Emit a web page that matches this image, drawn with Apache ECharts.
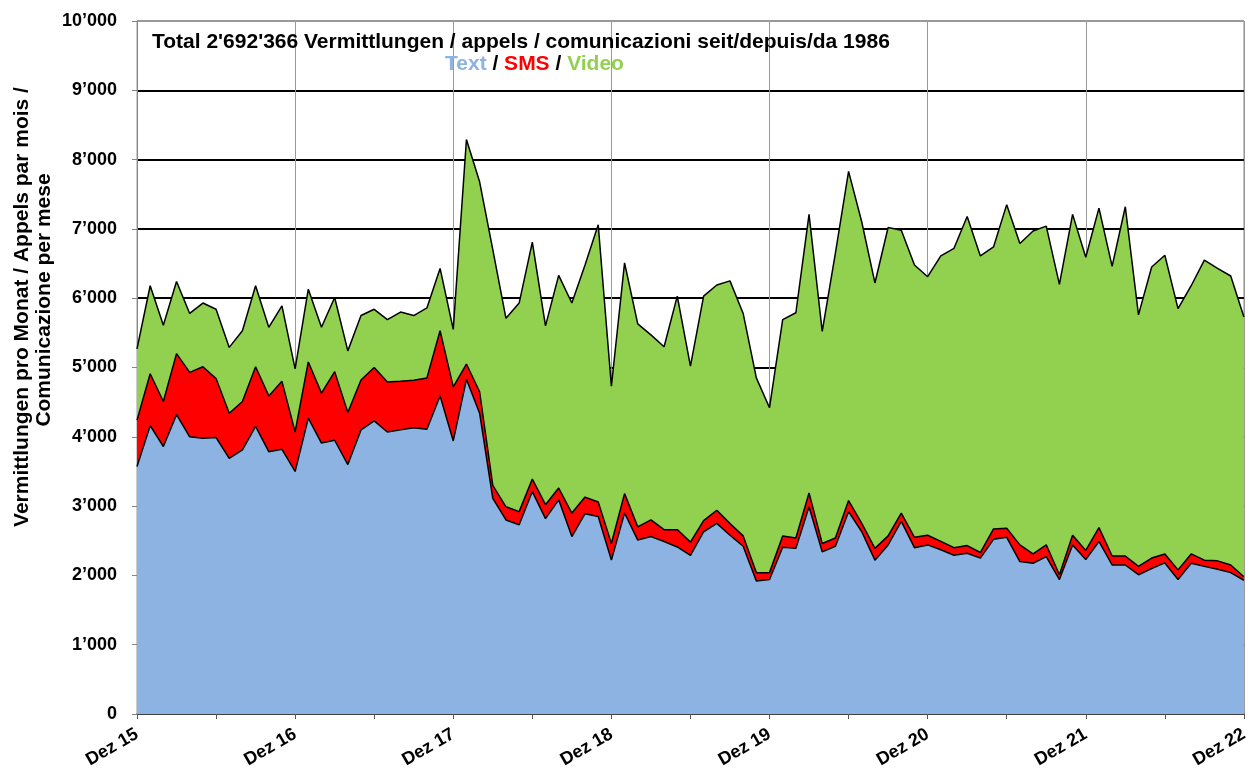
<!DOCTYPE html>
<html>
<head>
<meta charset="utf-8">
<script src="https://cdn.jsdelivr.net/npm/echarts@6/dist/echarts.min.js"></script>
<style>
  html, body { margin: 0; padding: 0; background: #fff; }
  #chart { width: 1251px; height: 778px; }
</style>
</head>
<body>
<div id="chart"></div>
<script>
// monthly values, Dez 15 .. Dez 22
const monthNames = ['Dez', 'Jan', 'Feb', 'Mär', 'Apr', 'Mai', 'Jun', 'Jul', 'Aug', 'Sep', 'Okt', 'Nov']
const months = []
for (let i = 0; i <= 84; i++) {
  const yr = 15 + Math.ceil(i / 12)
  months.push(monthNames[i % 12] + ' ' + yr)
}

const textData = [
  3570, 4160, 3860, 4320, 4000, 3980, 3990, 3690, 3810, 4150, 3785, 3820,
  3500, 4270, 3910, 3950, 3600, 4100, 4230, 4070, 4100, 4130, 4110, 4590,
  3940, 4830, 4340, 3110, 2800, 2730, 3210, 2820, 3090, 2560, 2890, 2850,
  2220, 2900, 2510, 2560, 2490, 2410, 2290, 2630, 2750, 2580, 2420, 1920,
  1940, 2405, 2390, 2990, 2340, 2420, 2920, 2630, 2220, 2440, 2780, 2400,
  2440, 2370, 2290, 2320, 2250, 2520, 2550, 2200, 2175, 2270, 1940, 2440,
  2230, 2490, 2150, 2150, 2010, 2100, 2180, 1940, 2175, 2130, 2090, 2040,
  1930
]
const smsData = [
  670, 750, 650, 880, 930, 1030, 850, 650, 700, 860, 805, 980,
  570, 810, 720, 990, 750, 720, 770, 720, 700, 685, 740, 940,
  780, 220, 310, 190, 190, 190, 180, 200, 170, 340, 240, 210,
  240, 280, 190, 240, 170, 250, 190, 160, 190, 170, 150, 120,
  100, 165, 150, 200, 120, 120, 160, 120, 170, 130, 120, 150,
  140, 120, 110, 110, 80, 150, 130, 240, 135, 170, 70, 140,
  130, 200, 130, 130, 120, 150, 130, 140, 135, 90, 120, 110,
  50
]
const videoData = [
  1030, 1270, 1100, 1040, 850, 920, 1000, 950, 1020, 1170, 990, 1090,
  910, 1050, 950, 1070, 890, 930, 840, 900, 1000, 935, 1010, 900,
  830, 3240, 3030, 3400, 2720, 3010, 3420, 2580, 3070, 3030, 3350, 4000,
  2270, 3330, 2930, 2670, 2640, 3370, 2540, 3240, 3250, 3500, 3210, 2810,
  2380, 3120, 3250, 4020, 3060, 4110, 4750, 4350, 3830, 4450, 4080, 3930,
  3730, 4120, 4320, 4750, 4280, 4070, 4670, 4350, 4660, 4600, 4190, 4630,
  4230, 4610, 4180, 5040, 3630, 4200, 4310, 3770, 3870, 4330, 4220, 4170,
  3750
]

const FONT = 'Liberation Sans, Arial, sans-serif'
const fmt = v => v >= 1000 ? Math.floor(v / 1000) + '\u2019' + String(v % 1000).padStart(3, '0') : String(v)

const areaSeries = (name, data, color) => ({
  name: name,
  type: 'line',
  stack: 'total',
  data: data,
  symbol: 'none',
  lineStyle: { color: '#000', width: 1.5 },
  areaStyle: { color: color, opacity: 1 },
  itemStyle: { color: color }
})

const Chart = echarts.init(document.getElementById('chart'))
const option = {
  animation: false,
  title: [
    {
      text: "Total 2'692'366 Vermittlungen / appels / comunicazioni seit/depuis/da 1986",
      left: 147,
      top: 27,
      textStyle: { fontFamily: FONT, fontSize: 21, fontWeight: 'bold', color: '#000' }
    },
    {
      text: '{a|Text} {b|/} {c|SMS} {b|/} {d|Video}',
      left: 440,
      top: 49,
      textStyle: {
        fontFamily: FONT, fontSize: 21, fontWeight: 'bold',
        rich: {
          a: { color: '#8DB3E2', fontFamily: FONT, fontSize: 21, fontWeight: 'bold' },
          b: { color: '#000', fontFamily: FONT, fontSize: 21, fontWeight: 'bold' },
          c: { color: '#FF0000', fontFamily: FONT, fontSize: 21, fontWeight: 'bold' },
          d: { color: '#92D050', fontFamily: FONT, fontSize: 21, fontWeight: 'bold' }
        }
      }
    }
  ],
  grid: {
    left: 137,
    right: 5,
    top: 21,
    bottom: 64,
    show: true,
    borderColor: '#999',
    borderWidth: 1,
    containLabel: false
  },
  xAxis: {
    type: 'category',
    boundaryGap: false,
    data: months,
    axisLine: { lineStyle: { color: '#555', width: 1.5 } },
    axisTick: { interval: 5, length: 5, lineStyle: { color: '#555' } },
    axisLabel: {
      interval: 11,
      rotate: 30,
      margin: 19,
      fontFamily: FONT,
      fontSize: 18,
      fontWeight: 'bold',
      color: '#000'
    },
    splitLine: { show: true, interval: 11, lineStyle: { color: '#999', width: 1 } }
  },
  yAxis: {
    type: 'value',
    min: 0,
    max: 10000,
    interval: 1000,
    axisLine: { show: true, lineStyle: { color: '#888' } },
    axisTick: { show: true, length: 5, lineStyle: { color: '#888' } },
    axisLabel: {
      margin: 20,
      fontFamily: FONT,
      fontSize: 18,
      fontWeight: 'bold',
      color: '#000',
      formatter: fmt
    },
    splitLine: {
      show: true,
      lineStyle: {
        color: ['#000', '#000', '#000', '#000', '#000', '#000', '#000', '#000', '#000', '#000', '#999'],
        width: 2
      }
    }
  },
  graphic: [
    {
      type: 'text',
      x: 22,
      y: 307,
      rotation: Math.PI / 2,
      style: {
        text: 'Vermittlungen pro Monat / Appels par mois /',
        fontFamily: FONT, fontSize: 21, fontWeight: 'bold', fill: '#000',
        align: 'center', verticalAlign: 'middle'
      }
    },
    {
      type: 'text',
      x: 44,
      y: 300,
      rotation: Math.PI / 2,
      style: {
        text: 'Comunicazione per mese',
        fontFamily: FONT, fontSize: 21, fontWeight: 'bold', fill: '#000',
        align: 'center', verticalAlign: 'middle'
      }
    }
  ],
  series: [
    areaSeries('Text', textData, '#8DB3E2'),
    areaSeries('SMS', smsData, '#FF0000'),
    areaSeries('Video', videoData, '#92D050')
  ]
}
option && Chart.setOption(option)
</script>
</body>
</html>
